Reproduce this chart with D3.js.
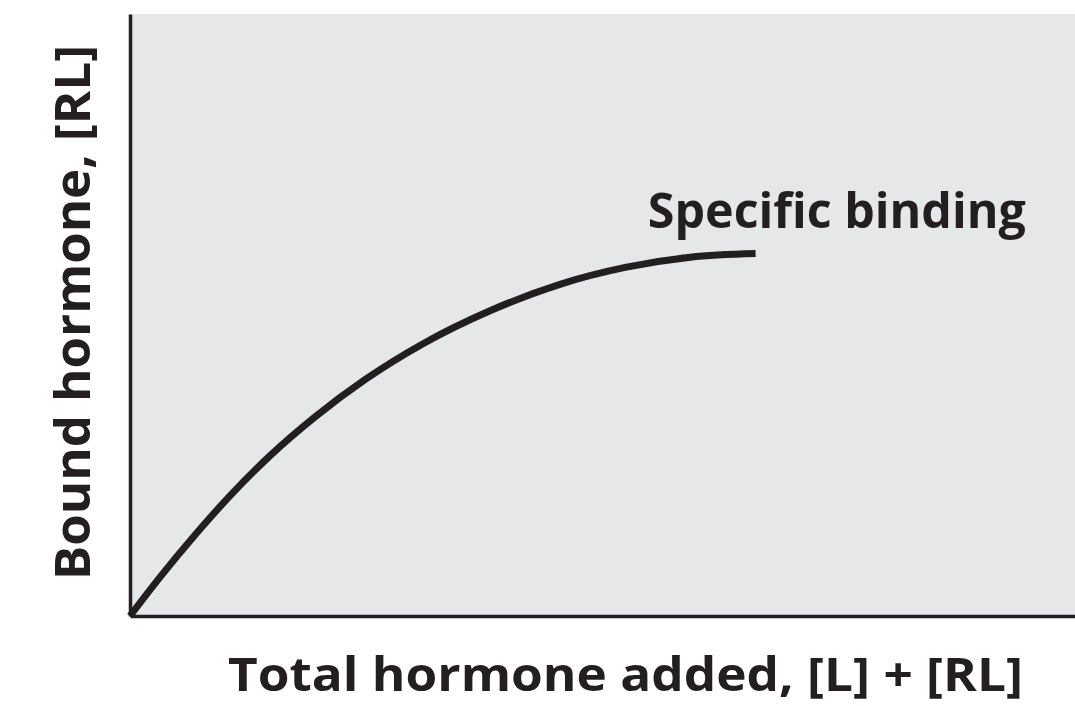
<!DOCTYPE html>
<html>
<head>
<meta charset="utf-8">
<script src="https://cdn.jsdelivr.net/npm/d3@7"></script>
<style>
  html, body { margin: 0; padding: 0; background: #fff; }
  .label { font-family: "Open Sans", "DejaVu Sans", sans-serif; font-weight: 700; fill: #231f20; }
</style>
</head>
<body>
<div id="chart"></div>
<script>
// curve (arbitrary units, 0-100 on both axes)
var totalAdded = [0, 3.2, 6.9, 10.6, 14.8, 19.6, 24.9, 31.2, 38.1, 45.5, 52.4, 59.3, 66.2];
var boundHormone = [0, 6.5, 13.5, 20.0, 26.6, 33.1, 39.3, 45.4, 50.7, 55.1, 57.9, 59.6, 60.2];

var xTitle = "Total hormone added, [L] + [RL]";
var yTitle = "Bound hormone, [RL]";
var curveLabel = "Specific binding";

var svgWidth = 1075, svgHeight = 706;
var margin = { top: 14, right: 0, bottom: 90, left: 130 };
var width = svgWidth - margin.left - margin.right;
var height = svgHeight - margin.top - margin.bottom;

var svg = d3.select("#chart")
  .append("svg")
  .attr("width", svgWidth)
  .attr("height", svgHeight);

var chartGroup = svg.append("g")
  .attr("transform", `translate(${margin.left}, ${margin.top})`);

var xScale = d3.scaleLinear().domain([0, 100]).range([0, width]);
var yScale = d3.scaleLinear().domain([0, 100]).range([height, 0]);

// grey plot panel
chartGroup.append("rect")
  .attr("x", 0)
  .attr("y", 0)
  .attr("width", width)
  .attr("height", height)
  .attr("fill", "#e6e7e8");

var points = totalAdded.map((d, i) => [d, boundHormone[i]]);

var line = d3.line()
  .x(d => xScale(d[0]))
  .y(d => yScale(d[1]))
  .curve(d3.curveMonotoneX);

chartGroup.append("path")
  .datum(points)
  .attr("d", line)
  .attr("fill", "none")
  .attr("stroke", "#231f20")
  .attr("stroke-width", 7);

// axes, no ticks
chartGroup.append("g")
  .attr("transform", `translate(0, ${height})`)
  .call(d3.axisBottom(xScale).ticks(0).tickSizeOuter(0))
  .select(".domain")
  .attr("stroke", "#231f20")
  .attr("stroke-width", 3.5);

chartGroup.append("g")
  .call(d3.axisLeft(yScale).ticks(0).tickSizeOuter(0))
  .select(".domain")
  .attr("stroke", "#231f20")
  .attr("stroke-width", 3.5);

// curve label
chartGroup.append("text")
  .attr("class", "label")
  .attr("x", xScale(54.8))
  .attr("y", yScale(64.5))
  .attr("font-size", 48)
  .attr("textLength", 378)
  .attr("lengthAdjust", "spacingAndGlyphs")
  .text(curveLabel);

// axis titles
svg.append("text")
  .attr("class", "label")
  .attr("x", 228)
  .attr("y", 691)
  .attr("font-size", 46)
  .attr("textLength", 795)
  .attr("lengthAdjust", "spacingAndGlyphs")
  .text(xTitle);

svg.append("text")
  .attr("class", "label")
  .attr("transform", "rotate(-90)")
  .attr("x", -580)
  .attr("y", 90)
  .attr("font-size", 48)
  .attr("textLength", 535)
  .attr("lengthAdjust", "spacingAndGlyphs")
  .text(yTitle);
</script>
</body>
</html>
